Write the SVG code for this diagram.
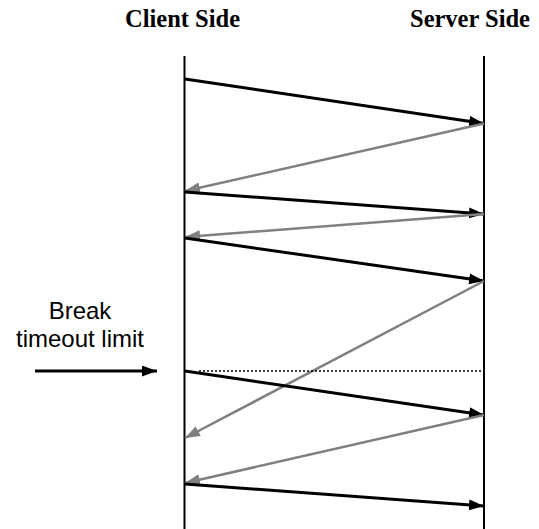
<svg xmlns="http://www.w3.org/2000/svg" width="539" height="529" viewBox="0 0 539 529">
  <style>
    .hdr { font-family: "Liberation Serif", "Times New Roman", serif; font-weight: bold; font-size: 24.5px; fill: #000; text-anchor: middle; }
    .lbl { font-family: "Liberation Sans", Arial, sans-serif; font-size: 24px; fill: #000; text-anchor: middle; }
    .life { stroke: #000; stroke-width: 2; fill: none; }
    .req { stroke: #000; stroke-width: 3; fill: none; marker-end: url(#headBlack); }
    .resp { stroke: #808080; stroke-width: 2.5; fill: none; marker-end: url(#headGray); }
    .cut { stroke: #000; stroke-width: 1.5; stroke-dasharray: 2 2; fill: none; }
  </style>
  <defs>
    <marker id="headBlack" viewBox="0 0 15 11" refX="15" refY="5.5" markerWidth="15" markerHeight="11" markerUnits="userSpaceOnUse" orient="auto">
      <path d="M0,0 L15,5.5 L0,11 z" fill="#000"/>
    </marker>
    <marker id="headGray" viewBox="0 0 15 11" refX="15" refY="5.5" markerWidth="15" markerHeight="11" markerUnits="userSpaceOnUse" orient="auto">
      <path d="M0,0 L15,5.5 L0,11 z" fill="#808080"/>
    </marker>
  </defs>

  <g id="client">
    <text class="hdr" x="182.5" y="27">Client Side</text>
    <line class="life" x1="184.5" y1="56" x2="184.5" y2="529"/>
  </g>

  <g id="server">
    <text class="hdr" x="470" y="27">Server Side</text>
    <line class="life" x1="484" y1="56" x2="484" y2="529"/>
  </g>

  <g id="timeout">
    <text class="lbl" x="80" y="319">Break</text>
    <text class="lbl" x="80" y="347">timeout limit</text>
  </g>

  <g id="connectors">
    <line class="req" x1="185" y1="79" x2="484" y2="123.5"/>
    <line class="resp" x1="484" y1="123.5" x2="185" y2="191"/>
    <line class="req" x1="185" y1="192" x2="484" y2="214"/>
    <line class="resp" x1="484" y1="214" x2="185" y2="237"/>
    <line class="req" x1="185" y1="238" x2="484" y2="281"/>
    <line class="resp" x1="484" y1="281" x2="185" y2="438"/>
    <line class="cut" x1="199" y1="371" x2="482" y2="371"/>
    <line class="req" x1="185" y1="371" x2="484" y2="415"/>
    <line class="resp" x1="484" y1="415" x2="185" y2="483"/>
    <line class="req" x1="185" y1="484" x2="484" y2="506"/>
    <line class="req" x1="35" y1="371" x2="157" y2="371"/>
  </g>
</svg>
